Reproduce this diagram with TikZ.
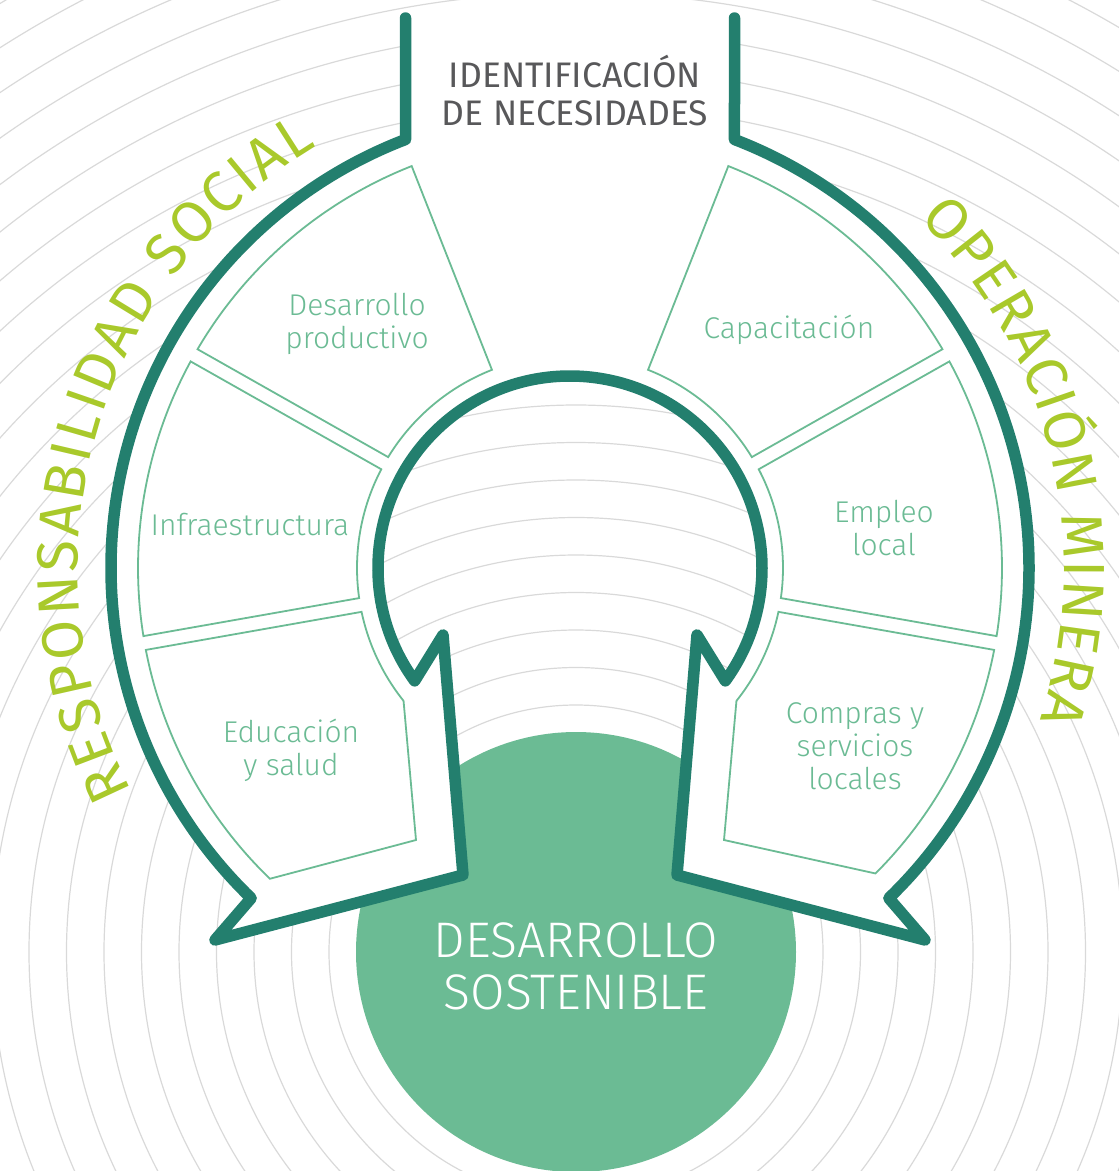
\documentclass[tikz,border=0pt]{standalone}
\usepackage{fontspec}
\newfontfamily\lightf{Fira Sans Light}
\newfontfamily\regf{Fira Sans}
\usetikzlibrary{decorations.text,calc}
\definecolor{darkteal}{HTML}{237F6E}
\definecolor{boxgreen}{HTML}{6BBB94}
\definecolor{limeg}{HTML}{A9C92B}
\definecolor{txtgray}{HTML}{58585A}
\definecolor{ringgray}{HTML}{D9D9D9}
\tikzset{
  ring/.style={draw=ringgray, line width=1.2pt},
  mainline/.style={draw=darkteal, line width=11.5pt, line join=round, line cap=round},
  boxline/.style={draw=boxgreen, line width=1.8pt, line join=miter},
  boxtext/.style={text=boxgreen, font=\lightf\fontsize{30}{33}\selectfont, align=center, inner sep=0pt},
  bigtext/.style={text=white, font=\lightf\fontsize{50}{52}\selectfont, align=center, inner sep=0pt},
  toptext/.style={text=txtgray, font=\regf\fontsize{35.5}{38}\selectfont, align=center, inner sep=0pt},
}
\begin{document}
\begin{tikzpicture}[x=1pt,y=1pt]
\useasboundingbox (0,0) rectangle (1119,-1171);
\clip (0,0) rectangle (1119,-1171);
\coordinate (C) at (570,-568);
\coordinate (G) at (576,-952);
% background rings
\foreach \k in {0,...,23}{
  \draw[ring] (G) circle[radius={247+37.5*\k}];
}
% sustainable development circle
\fill[boxgreen] (G) circle[radius=220];
% main band shape
\def\bandpath{(405.5,-18) -- ($(C)+(111:459)$)
  arc[start angle=111, end angle=226, radius=459]
  -- (215,-940) -- (463,-875) -- (443,-635)
  -- ($(C)+(216:192)$) arc[start angle=216, end angle=-36, radius=192]
  -- (697,-635) -- (677,-875) -- (925,-940)
  -- ($(C)+(-46:459)$) arc[start angle=-46, end angle=69, radius=459]
  -- (734.5,-18)}
\fill[white] \bandpath -- cycle;
\draw[mainline] \bandpath;
% left boxes
\draw[boxline] ($(C)+(111.5:432)$) arc[start angle=111.5, end angle=149.57, radius=432]
  -- ($(C)+(148.62:213)$) arc[start angle=148.62, end angle=111.5, radius=213] -- cycle;
\draw[boxline] ($(C)+(151.43:432)$) arc[start angle=151.43, end angle=189.07, radius=432]
  -- ($(C)+(188.12:213)$) arc[start angle=188.12, end angle=152.38, radius=213] -- cycle;
\draw[boxline] ($(C)+(190.93:432)$) arc[start angle=190.93, end angle=226, radius=432]
  -- (416,-840) -- ($(C)+(218.6:213)$) arc[start angle=218.6, end angle=191.88, radius=213] -- cycle;
% right boxes
\draw[boxline] ($(C)+(68.5:432)$) arc[start angle=68.5, end angle=30.43, radius=432]
  -- ($(C)+(31.38:213)$) arc[start angle=31.38, end angle=68.5, radius=213] -- cycle;
\draw[boxline] ($(C)+(28.57:432)$) arc[start angle=28.57, end angle=-9.07, radius=432]
  -- ($(C)+(-8.12:213)$) arc[start angle=-8.12, end angle=27.62, radius=213] -- cycle;
\draw[boxline] ($(C)+(-10.93:432)$) arc[start angle=-10.93, end angle=-45, radius=432]
  -- (724,-840) -- ($(C)+(-38.6:213)$) arc[start angle=-38.6, end angle=-11.88, radius=213] -- cycle;
% box texts
\node[boxtext] (dp) at (357,-324) {Desarrollo\\productivo};
\node[boxtext] (inf) at (250,-525) {Infraestructura};
\node[boxtext] (edu) at (291,-750) {Educación\\y salud};
\node[boxtext] (cap) at (789,-330) {Capacitación};
\node[boxtext] (emp) at (884,-528) {Empleo\\local};
\node[boxtext] (com) at (855,-746) {Compras y\\servicios\\locales};
% top label
\node[toptext] (idn) at (575,-91) {IDENTIFICACIÓN\\DE NECESIDADES};
% center label
\node[bigtext] (ds) at (576,-966) {DESARROLLO\\SOSTENIBLE};
% curved labels
\path[decorate, decoration={text along path,
   text={|\regf\fontsize{58}{58}\selectfont\color{limeg}|RESPONSABILIDAD SOCIAL},
   text align={fit to path}}]
  ($(C)+(207:492)$) arc[start angle=207, end angle=121, radius=492];
\path[decorate, decoration={text along path,
   text={|\regf\fontsize{58}{58}\selectfont\color{limeg}|OPERACIÓN MINERA},
   text align={fit to path}}]
  ($(C)+(45:494)$) arc[start angle=45, end angle=-18, radius=494];
\end{tikzpicture}
\end{document}
